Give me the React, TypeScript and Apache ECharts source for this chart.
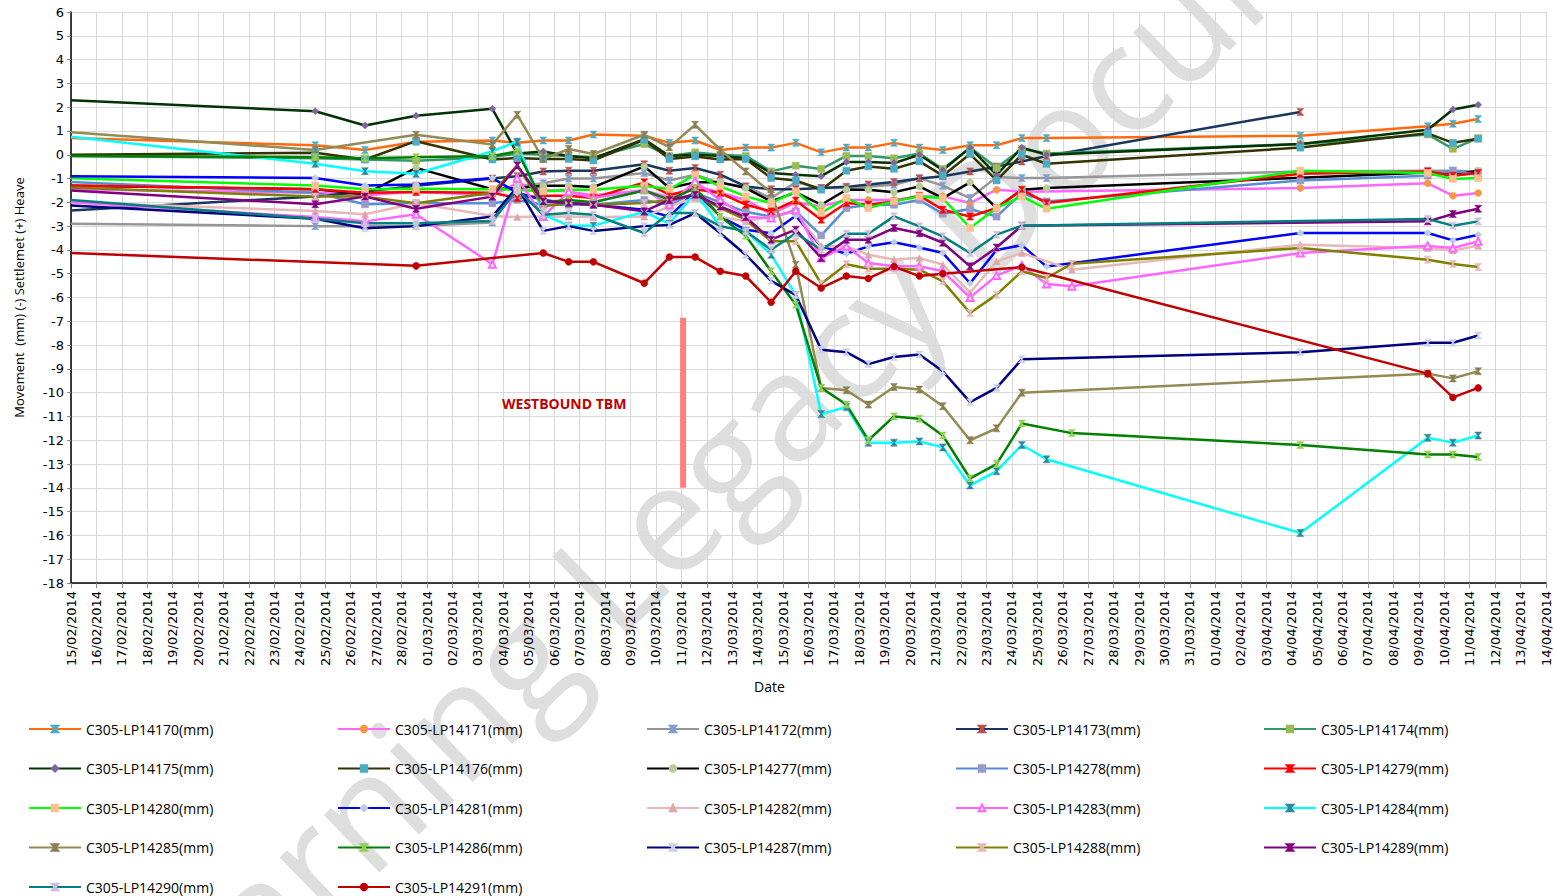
import React, { useEffect, useRef } from "react";
import * as echarts from "echarts";

// Measurement dates (dd/MM/yyyy HH:mm); first entry is the axis start
const dates = [
  "15/02/2014 00:00", "24/02/2014 14:30", "26/02/2014 13:30", "28/02/2014 13:40", "03/03/2014 13:40",
  "04/03/2014 13:10", "05/03/2014 13:40", "06/03/2014 13:40", "07/03/2014 13:00", "08/03/2014 13:30",
  "09/03/2014 13:00", "10/03/2014 12:45", "11/03/2014 13:00", "12/03/2014 12:45", "13/03/2014 12:45",
  "14/03/2014 12:45", "15/03/2014 12:00", "16/03/2014 12:00", "17/03/2014 11:45", "18/03/2014 08:30",
  "19/03/2014 08:40", "20/03/2014 08:40", "21/03/2014 06:45", "22/03/2014 08:30", "23/03/2014 09:30",
  "24/03/2014 09:20", "25/03/2014 08:40", "26/03/2014 08:30", "04/04/2014 08:10", "09/04/2014 08:25",
  "10/04/2014 08:10", "11/04/2014 08:00",
];

const names = [
  "C305-LP14170(mm)", "C305-LP14171(mm)", "C305-LP14172(mm)", "C305-LP14173(mm)", "C305-LP14174(mm)",
  "C305-LP14175(mm)", "C305-LP14176(mm)", "C305-LP14277(mm)", "C305-LP14278(mm)", "C305-LP14279(mm)",
  "C305-LP14280(mm)", "C305-LP14281(mm)", "C305-LP14282(mm)", "C305-LP14283(mm)", "C305-LP14284(mm)",
  "C305-LP14285(mm)", "C305-LP14286(mm)", "C305-LP14287(mm)", "C305-LP14288(mm)", "C305-LP14289(mm)",
  "C305-LP14290(mm)", "C305-LP14291(mm)",
];

const lp14170 = [0.7, 0.4, 0.2, 0.55, 0.6, 0.5, 0.6, 0.6, 0.85, null, 0.8, 0.5, 0.6, 0.2, 0.3, 0.3, 0.5, 0.1, 0.3, 0.3, 0.5, 0.3, 0.2, 0.4, 0.4, 0.7, 0.7, null, 0.8, 1.2, 1.3, 1.5];
const lp14171 = [-1.45, -1.6, -1.7, -1.55, -1.7, -1.2, -1.47, -1.55, -1.7, null, -1.5, -1.8, -1.3, -1.6, -1.9, -2.5, -2.0, -2.17, -1.9, -1.9, -1.9, -1.75, -1.75, -2.03, -1.47, -1.55, null, null, -1.4, -1.2, -1.72, -1.61];
const lp14172 = [-2.9, -3.0, -3.0, -3.0, -2.85, -1.35, -1.2, -1.0, -1.0, null, -0.77, -1.08, -0.84, -1.2, -1.33, -1.82, -1.16, -1.4, -1.4, -1.33, -1.26, -0.98, -1.3, -1.82, -0.94, -0.98, -0.98, null, -0.7, -0.67, -0.67, -0.7];
const lp14173 = [-2.34, -1.75, -1.55, -1.3, -1.0, -0.9, -0.7, -0.67, -0.67, null, -0.4, -0.67, -0.56, -0.84, -1.33, -1.45, -1.45, -1.4, -1.35, -1.25, -1.15, -1.0, -0.9, -0.7, -0.5, -0.28, -0.05, null, 1.8, null, null, null];
const lp14174 = [-0.05, -0.15, -0.2, -0.25, -0.1, 0.05, 0.0, -0.05, -0.1, null, 0.45, -0.05, 0.1, 0.0, -0.05, -0.7, -0.46, -0.6, -0.05, -0.05, -0.15, 0.05, -0.6, 0.3, -0.55, 0.25, 0.05, null, 0.45, 0.85, 0.25, 0.7];
const lp14175 = [2.29, 1.83, 1.23, 1.64, 1.93, 0.05, 0.14, -0.05, -0.15, null, 0.65, -0.05, 0, -0.05, -0.15, -0.77, -0.84, -0.9, -0.3, -0.3, -0.35, 0.0, -0.65, 0.3, -0.85, 0.3, 0.0, null, 0.45, 1.05, 1.9, 2.1];
const lp14176 = [0.0, 0.08, -0.2, 0.57, -0.2, -0.14, -0.18, -0.18, -0.24, null, 0.63, -0.18, -0.07, -0.2, -0.18, -0.98, -1.08, -1.47, -0.67, -0.49, -0.59, -0.28, -0.88, 0.03, -1.08, 0.0, -0.38, null, 0.3, 0.9, 0.5, 0.67];
const lp14277 = [-1.3, -1.45, -1.66, -0.55, -1.45, -1.4, -1.3, -1.3, -1.36, null, -0.49, -1.4, -1.16, -1.16, -1.4, -1.96, -1.58, -2.1, -1.47, -1.47, -1.58, -1.33, -1.82, -1.16, -2.24, -1.47, -1.4, null, null, -0.75, -0.85, -0.67];
const lp14278 = [-1.15, -1.6, -2.08, -2.04, -2.04, -1.9, -2.1, -2.1, -2.1, null, -1.9, -2.1, -1.6, -2.0, -2.4, -2.6, -2.38, -3.39, -2.24, -2.1, -2.1, -1.9, -2.48, -2.28, -2.6, -1.61, -1.96, null, -1.08, -0.88, -0.67, -0.85];
const lp14279 = [-1.29, -1.45, -1.6, -1.57, -1.6, -1.82, -1.72, -1.72, -1.82, null, -1.16, -1.68, -1.45, -1.61, -2.1, -2.38, -1.92, -2.73, -2.03, -2.1, -1.96, -1.72, -2.31, -2.6, -2.24, -1.47, -2.03, null, -0.8, -0.7, -0.88, -0.77];
const lp14280 = [-0.99, -1.29, -1.45, -1.43, -1.45, -1.47, -1.54, -1.47, -1.47, null, -1.3, -1.45, -0.84, -1.33, -1.75, -2.03, -1.54, -2.45, -1.82, -2.24, -1.96, -1.75, -1.82, -3.08, -2.24, -1.75, -2.27, null, -0.67, -0.77, -1.02, -0.98];
const lp14281 = [-0.9, -0.98, -1.29, -1.25, -0.98, -1.6, -1.9, -2.03, -2.1, null, -2.31, -2.6, -1.54, -2.6, -3.15, -3.3, -2.56, -3.85, -4.16, -3.85, -3.68, -3.9, -4.13, -5.4, -4.0, -3.8, -4.7, null, -3.29, -3.29, -3.6, -3.36];
const lp14282 = [-2.0, -2.36, -2.5, -2.04, -2.57, -2.62, -2.6, -2.6, -2.62, null, -2.6, -2.17, -1.82, -2.6, -2.8, -2.6, -2.38, -3.85, -3.85, -4.2, -4.4, -4.34, -4.62, -5.8, -4.48, -4.13, null, -4.83, -3.78, -3.92, -4.02, -3.83];
const lp14283 = [-2.0, -2.62, -2.8, -2.5, -4.6, -0.98, -2.6, -1.55, -1.82, null, -1.47, -2.1, -1.12, -1.9, -2.62, -2.66, -2.31, -4.34, -3.85, -4.55, -4.69, -4.69, -4.9, -6.0, -5.08, -4.65, -5.43, -5.53, -4.13, -3.83, -3.92, -3.64];
const lp14284 = [0.76, -0.38, -0.69, -0.8, 0.15, 0.55, -2.52, -2.98, -2.98, null, -2.4, -2.9, -1.6, -3.0, -3.2, -4.2, -5.9, -10.9, -10.6, -12.1, -12.1, -12.05, -12.3, -13.9, -13.3, -12.2, -12.8, null, -15.9, -11.9, -12.1, -11.8];
const lp14285 = [0.95, 0.2, null, 0.84, 0.43, 1.68, -0.18, 0.24, 0.03, null, 0.84, 0.32, 1.26, 0.21, -0.7, -1.6, -4.62, -9.8, -9.9, -10.5, -9.76, -9.87, -10.57, -12.0, -11.5, -10.0, null, null, null, -9.2, -9.4, -9.1];
const lp14286 = [-0.05, -0.1, -0.15, -0.1, -0.05, 0.14, -2.0, -1.9, -2.0, null, -1.5, -1.9, -1.4, -2.6, -3.4, -4.9, -6.3, -9.8, -10.5, -12.0, -11.0, -11.1, -11.8, -13.6, -13.0, -11.3, null, -11.7, -12.2, -12.6, -12.6, -12.7];
const lp14287 = [-2.13, -2.69, -3.09, -3.0, -2.6, -1.35, -3.2, -3.0, -3.2, null, -3.0, -2.95, -2.45, -3.3, -4.2, -5.3, -5.9, -8.2, -8.3, -8.8, -8.5, -8.4, -9.1, -10.4, -9.8, -8.6, null, null, -8.3, -7.9, -7.9, -7.6];
const lp14288 = [-1.38, -1.76, -1.76, -2.04, -1.6, -0.45, -2.17, -2.03, -2.1, null, -2.03, -1.9, -1.68, -2.24, -2.73, -3.64, -3.64, -5.42, -4.6, -4.79, -4.79, -4.83, -5.32, -6.65, -5.88, -4.9, -5.18, -4.58, -3.92, -4.41, -4.59, -4.72];
const lp14289 = [-1.5, -2.08, -1.76, -2.27, -1.76, -0.45, -1.96, -2.03, -2.1, null, -2.38, -1.9, -1.68, -2.17, -2.62, -3.57, -3.15, -4.34, -3.57, -3.57, -3.08, -3.3, -3.7, -4.69, -3.9, -2.98, null, null, null, -2.8, -2.49, -2.27];
const lp14290 = [-1.9, -2.69, -2.88, -2.88, -2.78, -1.47, -2.52, -2.45, -2.52, null, -3.29, -2.45, -2.45, -3.0, -3.22, -3.99, -3.3, -3.99, -3.32, -3.32, -2.59, -3.01, -3.43, -4.13, -3.36, -2.98, null, null, null, -2.7, -2.98, -2.8];
const lp14291 = [-4.13, null, null, -4.67, null, null, -4.13, -4.5, -4.5, null, -5.4, -4.3, -4.3, -4.9, -5.1, -6.2, -4.9, -5.6, -5.1, -5.2, -4.7, -5.1, -5.0, null, null, -4.73, null, null, null, -9.2, -10.2, -9.8];

const seriesValues = [
  lp14170, lp14171, lp14172, lp14173, lp14174, lp14175, lp14176, lp14277, lp14278, lp14279, lp14280,
  lp14281, lp14282, lp14283, lp14284, lp14285, lp14286, lp14287, lp14288, lp14289, lp14290, lp14291,
];

// Westbound TBM marker (date and movement range)
const tbmDate = "11/03/2014 01:40";
const tbmRange = [-6.85, -14.0];
const tbmLabel = "WESTBOUND TBM";

// Axis
const axisStart = "15/02/2014 00:00";
const axisDays = 58;
const yMin = -18;
const yMax = 6;

const HG = "path://M0,0L10,0L5.6,5L10,10L0,10L4.4,5Z";
const styles = [
  { line: "#FF6A10", mark: "#4BACC6", sym: HG },
  { line: "#FF66FF", mark: "#F79646", sym: "circle" },
  { line: "#969696", mark: "#7F9ED6", sym: HG },
  { line: "#17375E", mark: "#C0504D", sym: HG },
  { line: "#339966", mark: "#9BBB59", sym: "rect" },
  { line: "#003300", mark: "#8064A2", sym: "diamond" },
  { line: "#333300", mark: "#4BACC6", sym: "rect" },
  { line: "#000000", mark: "#B7CC97", sym: "circle" },
  { line: "#558ED5", mark: "#9999CC", sym: "rect" },
  { line: "#FF0000", mark: "#FF0000", sym: HG },
  { line: "#00FF00", mark: "#FAC090", sym: "rect" },
  { line: "#0000FF", mark: "#B9CDE5", sym: "diamond" },
  { line: "#E6B9B8", mark: "#DDA9A8", sym: "triangle" },
  { line: "#FF66FF", mark: "#FF66FF", sym: "emptyTriangle" },
  { line: "#00FFFF", mark: "#31859C", sym: HG },
  { line: "#948A54", mark: "#8A7F4E", sym: HG },
  { line: "#008000", mark: "#92D050", sym: HG },
  { line: "#000080", mark: "#CCD0EA", sym: HG },
  { line: "#808000", mark: "#E6B9B8", sym: HG },
  { line: "#800080", mark: "#800080", sym: HG },
  { line: "#008080", mark: "#CCC0DA", sym: HG },
  { line: "#C00000", mark: "#C00000", sym: "circle" },
];

function toMs(s: string): number {
  const [d, t] = s.split(" ");
  const [dd, mm, yy] = d.split("/").map(Number);
  const [hh, mi] = (t || "00:00").split(":").map(Number);
  return Date.UTC(yy, mm - 1, dd, hh, mi);
}
const startMs = toMs(axisStart);
const dayOf = (s: string) => (toMs(s) - startMs) / 86400000;

function fmtDay(v: number): string {
  const d = new Date(startMs + Math.round(v) * 86400000);
  const p = (n: number) => String(n).padStart(2, "0");
  return `${p(d.getUTCDate())}/${p(d.getUTCMonth() + 1)}/${d.getUTCFullYear()}`;
}

export default function App() {
  const ref = useRef<HTMLDivElement>(null);
  useEffect(() => {
    if (!ref.current) return;
    const chart = echarts.init(ref.current, undefined, { renderer: "svg" });
    const series: any[] = names.map((name, si) => {
      const st = styles[si];
      const data: any[] = [];
      seriesValues[si].forEach((v, i) => {
        if (v === null || v === undefined) return;
        const x = dayOf(dates[i]);
        if (i === 0) data.push({ value: [x, v], symbol: "none" });
        else data.push([x, v]);
      });
      return {
        name,
        type: "line",
        data,
        symbol: st.sym,
        symbolSize: 7,
        showAllSymbol: true,
        connectNulls: true,
        lineStyle: { color: st.line, width: 2.5 },
        itemStyle: { color: st.mark, borderColor: st.sym === "emptyTriangle" ? st.line : st.mark, borderWidth: st.sym === "emptyTriangle" ? 1.5 : 0.5 },
        emphasis: { disabled: true },
        z: 3,
      };
    });
    const tx = dayOf(tbmDate);
    series.push({
      name: "tbm",
      type: "line",
      data: [[tx, tbmRange[0]], [tx, tbmRange[1]]],
      symbol: "none",
      lineStyle: { color: "#FF7F7F", width: 6 },
      silent: true,
      z: 2,
    });

    const colLefts = [28, 337, 646, 955, 1263];
    const legends = colLefts.map((left, c) => ({
      show: true,
      orient: "vertical",
      left,
      top: 721,
      padding: 0,
      itemGap: 23.5,
      itemWidth: 52,
      itemHeight: 8,
      selectedMode: false,
      data: names.filter((_, i) => i % 5 === c),
      textStyle: { fontFamily: "Open Sans", fontSize: 14, lineHeight: 16, color: "#000" },
    }));

    chart.setOption({
      animation: false,
      backgroundColor: "#fff",
      grid: { left: 71, right: 8, top: 12, bottom: 313, containLabel: false },
      legend: legends,
      xAxis: {
        type: "value",
        min: 0,
        max: axisDays,
        interval: 1,
        name: "Date",
        nameLocation: "middle",
        nameGap: 96,
        nameTextStyle: { fontFamily: "Open Sans", fontSize: 14, color: "#000", padding: [0, 78, 0, 0] },
        axisLine: { onZero: false, lineStyle: { color: "#000", width: 1.5 } },
        axisTick: { show: true, length: 5, lineStyle: { color: "#888" } },
        axisLabel: {
          rotate: 90,
          margin: 8,
          fontFamily: "DejaVu Sans",
          fontSize: 13,
          color: "#000",
          formatter: (v: number) => fmtDay(v),
          showMinLabel: true,
          showMaxLabel: true,
        },
        splitLine: { show: true, lineStyle: { color: "#D9D9D9", width: 1 } },
      },
      yAxis: {
        type: "value",
        min: yMin,
        max: yMax,
        interval: 1,
        name: "Movement  (mm) (-) Settlemet (+) Heave",
        nameLocation: "middle",
        nameGap: 46,
        nameTextStyle: { fontFamily: "Open Sans", fontSize: 13, color: "#000" },
        axisLine: { show: true, lineStyle: { color: "#000", width: 1.5 } },
        axisTick: { show: true, length: 4, lineStyle: { color: "#888" } },
        axisLabel: { fontFamily: "DejaVu Sans", fontSize: 13, color: "#000", margin: 7 },
        splitLine: { show: true, lineStyle: { color: "#D9D9D9", width: 1 } },
      },
      graphic: [
        {
          type: "text",
          x: 790,
          y: 395,
          rotation: (44 * Math.PI) / 180,
          z: -10,
          silent: true,
          style: {
            text: "Learning Legacy Document",
            fontFamily: "Open Sans",
            fontSize: 150,
            fill: "rgba(0,0,0,0.13)",
            align: "center",
            verticalAlign: "middle",
          },
        },
        {
          type: "text",
          x: 502,
          y: 396,
          z: 10,
          style: {
            text: tbmLabel,
            fontFamily: "Open Sans",
            fontWeight: "bold",
            fontSize: 14,
            fill: "#C00000",
          },
        },
      ],
      series,
    });
    return () => chart.dispose();
  }, []);
  return <div ref={ref} style={{ width: 1554, height: 896, position: "absolute", left: 0, top: 0 }} />;
}
